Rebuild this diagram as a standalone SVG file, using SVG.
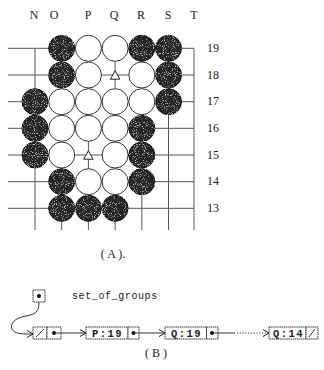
<svg xmlns="http://www.w3.org/2000/svg" width="324" height="370" viewBox="0 0 324 370">
  <style>
    .grid { stroke: #555; stroke-width: 1; fill: none; }
    .lbl { font-family: "Liberation Serif", "DejaVu Serif", serif; font-size: 12px; fill: #222; text-anchor: middle; }
    .white { fill: #fff; stroke: #333; stroke-width: 1; }
    .black { fill: #262626; stroke: #111; stroke-width: 1; }
    .mark { fill: #fff; stroke: #222; stroke-width: 1; }
    .cell { fill: #fff; stroke: #333; stroke-width: 1; stroke-dasharray: 1.5 0.6; }
    .code { font-family: "Liberation Mono", "DejaVu Sans Mono", monospace; font-size: 10px; fill: #222; }
    .val { font-family: "Liberation Mono", "DejaVu Sans Mono", monospace; font-size: 10.5px; font-weight: bold; fill: #222; text-anchor: middle; letter-spacing: 1.5px; }
    .link { stroke: #333; stroke-width: 1; fill: none; }
    .dot { fill: #111; }
  </style>
  <defs>
    <filter id="grain" x="-5%" y="-5%" width="110%" height="110%">
      <feTurbulence type="fractalNoise" baseFrequency="1.1" numOctaves="1" seed="7" result="noise"/>
      <feColorMatrix in="noise" type="matrix" values="0 0 0 0 0.55  0 0 0 0 0.55  0 0 0 0 0.55  0 0 0 6 -3.5" result="specks"/>
      <feComposite in="specks" in2="SourceAlpha" operator="in" result="clipped"/>
      <feMerge><feMergeNode in="SourceGraphic"/><feMergeNode in="clipped"/></feMerge>
    </filter>
    <marker id="open" markerWidth="8" markerHeight="8" refX="7" refY="4" orient="auto" markerUnits="userSpaceOnUse">
      <path d="M1,0.5 L7,4 L1,7.5" fill="none" stroke="#222" stroke-width="1"/>
    </marker>
  </defs>

  <!-- (A) board corner -->
  <g id="board-labels">
    <text class="lbl" x="34" y="19">N</text>
    <text class="lbl" x="54" y="19">O</text>
    <text class="lbl" x="88" y="19">P</text>
    <text class="lbl" x="114" y="19">Q</text>
    <text class="lbl" x="141" y="19">R</text>
    <text class="lbl" x="168" y="19">S</text>
    <text class="lbl" x="194" y="19">T</text>
    <text class="lbl" x="213" y="52">19</text>
    <text class="lbl" x="213" y="79">18</text>
    <text class="lbl" x="213" y="105">17</text>
    <text class="lbl" x="213" y="132">16</text>
    <text class="lbl" x="213" y="159">15</text>
    <text class="lbl" x="213" y="185">14</text>
    <text class="lbl" x="213" y="212">13</text>
  </g>

  <g id="grid" class="grid">
    <!-- rows 19..13 -->
    <path d="M8,48.3H194 M8,75H194 M8,101.7H194 M8,128.3H194 M8,155H194 M8,181.7H194 M8,208.3H194"/>
    <!-- columns N..T -->
    <path d="M35,48.3V230 M61.7,48.3V230 M88.4,48.3V230 M115.1,48.3V230 M141.8,48.3V230 M168.5,48.3V230 M194,48.3V230"/>
  </g>

  <g id="white-stones" class="white">
    <circle cx="88.4" cy="48.3" r="13"/>
    <circle cx="115.1" cy="48.3" r="13"/>
    <circle cx="88.4" cy="75" r="13"/>
    <circle cx="141.8" cy="75" r="13"/>
    <circle cx="61.7" cy="101.7" r="13"/>
    <circle cx="88.4" cy="101.7" r="13"/>
    <circle cx="115.1" cy="101.7" r="13"/>
    <circle cx="141.8" cy="101.7" r="13"/>
    <circle cx="61.7" cy="128.3" r="13"/>
    <circle cx="88.4" cy="128.3" r="13"/>
    <circle cx="115.1" cy="128.3" r="13"/>
    <circle cx="61.7" cy="155" r="13"/>
    <circle cx="115.1" cy="155" r="13"/>
    <circle cx="88.4" cy="181.7" r="13"/>
    <circle cx="115.1" cy="181.7" r="13"/>
  </g>

  <g id="black-stones" class="black" filter="url(#grain)">
    <circle cx="61.7" cy="48.3" r="13"/>
    <circle cx="141.8" cy="48.3" r="13"/>
    <circle cx="168.5" cy="48.3" r="13"/>
    <circle cx="61.7" cy="75" r="13"/>
    <circle cx="168.5" cy="75" r="13"/>
    <circle cx="35" cy="101.7" r="13"/>
    <circle cx="168.5" cy="101.7" r="13"/>
    <circle cx="35" cy="128.3" r="13"/>
    <circle cx="141.8" cy="128.3" r="13"/>
    <circle cx="35" cy="155" r="13"/>
    <circle cx="141.8" cy="155" r="13"/>
    <circle cx="61.7" cy="181.7" r="13"/>
    <circle cx="141.8" cy="181.7" r="13"/>
    <circle cx="61.7" cy="208.3" r="13"/>
    <circle cx="88.4" cy="208.3" r="13"/>
    <circle cx="115.1" cy="208.3" r="13"/>
  </g>

  <!-- marked empty points Q18 and P15 -->
  <g id="marks" class="mark">
    <path d="M115.1,70.8 L119.8,79.2 L110.4,79.2 Z"/>
    <path d="M88.4,150.8 L93.1,159.2 L83.7,159.2 Z"/>
  </g>

  <text class="lbl" x="113" y="258">( A ).</text>

  <!-- (B) list of groups -->
  <g id="head">
    <rect class="cell" x="33" y="290" width="12" height="12"/>
    <circle class="dot" cx="39" cy="296" r="2"/>
  </g>
  <text class="code" x="72" y="299" letter-spacing="0.6">set_of_groups</text>

  <g id="node-0">
    <rect class="cell" x="33" y="327" width="14" height="12"/>
    <rect class="cell" x="47" y="327" width="14" height="12"/>
    <path class="link" d="M36,337 L44,329"/>
    <circle class="dot" cx="54" cy="333" r="2"/>
  </g>
  <g id="node-1">
    <rect class="cell" x="86" y="327" width="42" height="12"/>
    <rect class="cell" x="128" y="327" width="11" height="12"/>
    <text class="val" x="107.5" y="337">P:19</text>
    <circle class="dot" cx="133.5" cy="333" r="2"/>
  </g>
  <g id="node-2">
    <rect class="cell" x="165" y="327" width="41.5" height="12"/>
    <rect class="cell" x="206.5" y="327" width="11.5" height="12"/>
    <text class="val" x="186.5" y="337">Q:19</text>
    <circle class="dot" cx="212" cy="333" r="2"/>
  </g>
  <g id="node-3">
    <rect class="cell" x="269" y="327" width="37" height="12"/>
    <rect class="cell" x="306" y="327" width="12" height="12"/>
    <text class="val" x="288.5" y="337">Q:14</text>
    <path class="link" d="M309,337 L315,329"/>
  </g>

  <g id="connectors">
    <path class="link" d="M39,302 C39,312 36,314 26,316 C14,318 10,324 12,329 C14,334 22,334 33,334" marker-end="url(#open)"/>
    <path class="link" d="M54,333 H86" marker-end="url(#open)"/>
    <path class="link" d="M133.5,333 H165" marker-end="url(#open)"/>
    <path class="link" d="M212,333 H234"/>
    <path class="link" d="M234,333 H269" stroke-dasharray="1.2 1.6" marker-end="url(#open)"/>
  </g>

  <text class="lbl" x="156" y="357">( B )</text>
</svg>
